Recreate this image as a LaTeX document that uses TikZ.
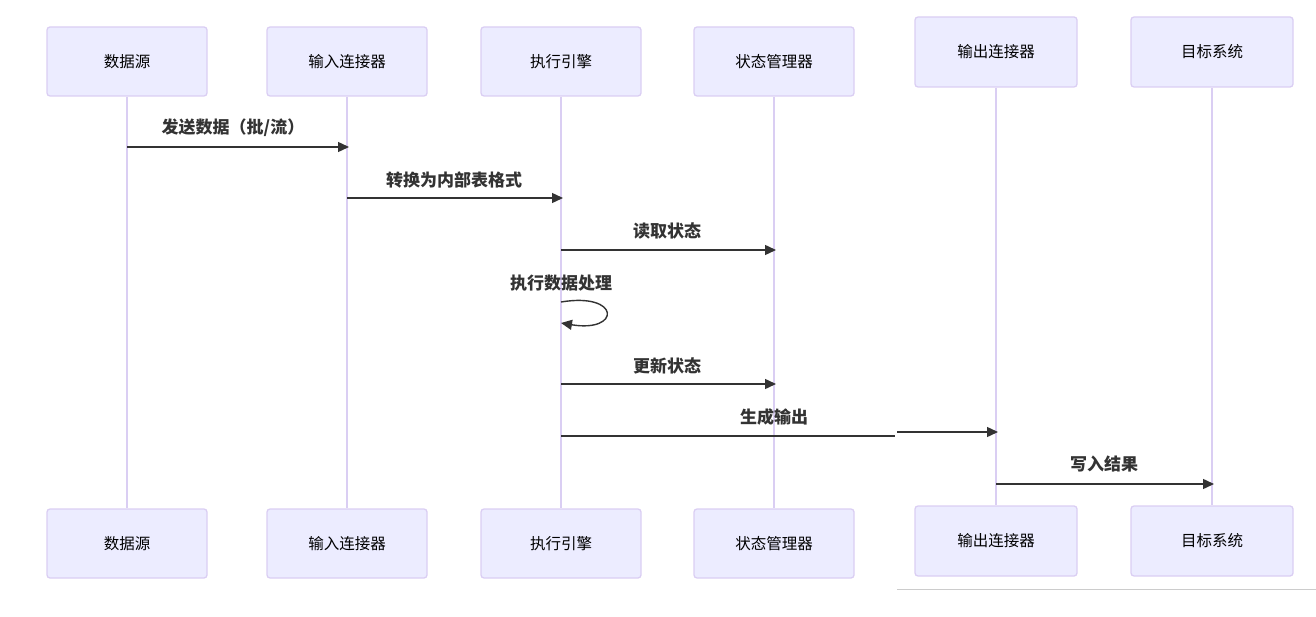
\documentclass[tikz,border=0pt]{standalone}
\usepackage{fontspec}
\newfontfamily\cjk{Noto Sans CJK SC}
\usetikzlibrary{arrows.meta,calc,backgrounds}
\definecolor{actfill}{HTML}{ECECFF}
\definecolor{actline}{HTML}{DACEF3}
\definecolor{msg}{HTML}{333333}
\begin{document}
\begin{tikzpicture}[x=1pt,y=-1pt,
 actor/.style={draw=actline, fill=actfill, rounded corners=3pt, line width=1.3pt, minimum width=160pt, minimum height=69pt, font=\cjk\fontsize{15.5}{18}\selectfont, text=black, inner sep=0pt},
 actorr/.style={actor, minimum width=162pt, minimum height=70pt},
 life/.style={draw=actline, line width=1.8pt},
 plainmsg/.style={draw=msg, line width=1.4pt},
 msgline/.style={plainmsg, -{Triangle[length=11pt,width=10pt]}, shorten >=-2pt},
 lbl/.style={font=\cjk\bfseries\fontsize{17}{20}\selectfont, text=msg, inner sep=0pt}]
\useasboundingbox (0,0) rectangle (1316,617);
% top actors
\node[actor] (s1) at (127,61.5) {数据源};
\node[actor] (s2) at (347,61.5) {输入连接器};
\node[actor] (s3) at (561,61.5) {执行引擎};
\node[actor] (s4) at (774,61.5) {状态管理器};
\node[actorr] (s5) at (996,52) {输出连接器};
\node[actorr] (s6) at (1212,52) {目标系统};
% bottom actors
\node[actor] (e1) at (127,543.5) {数据源};
\node[actor] (e2) at (347,543.5) {输入连接器};
\node[actor] (e3) at (561,543.5) {执行引擎};
\node[actor] (e4) at (774,543.5) {状态管理器};
\node[actorr] (e5) at (996,541) {输出连接器};
\node[actorr] (e6) at (1212,541) {目标系统};
\begin{scope}[on background layer]
\draw[life] (s1.south) -- (e1.north);
\draw[life] (s2.south) -- (e2.north);
\draw[life] (s3.south) -- (e3.north);
\draw[life] (s4.south) -- (e4.north);
\draw[life] (s5.south) -- (e5.north);
\draw[life] (s6.south) -- (e6.north);
\end{scope}
% messages
\draw[msgline] (s1.south |- 0,147) -- (s2.south |- 0,147);
\node[lbl] (l1) at (233,128) {发送数据（批/流）};
\draw[msgline] (s2.south |- 0,198) -- (s3.south |- 0,198);
\node[lbl] (l2) at (454,180) {转换为内部表格式};
\draw[msgline] (s3.south |- 0,250) -- (s4.south |- 0,250);
\node[lbl] (l3) at (667,231) {读取状态};
\node[lbl] (l4) at (561,283) {执行数据处理};
\draw[msgline, shorten >=0pt] (s3.south |- 0,302) .. controls +(60,-10) and +(60,10) .. (s3.south |- 0,323);
\draw[msgline] (s3.south |- 0,384) -- (s4.south |- 0,384);
\node[lbl] (l5) at (667,366) {更新状态};
\coordinate (brkA) at (895,436);
\coordinate (brkB) at (897,432);
\draw[plainmsg] (s3.south |- 0,436) -- (brkA);
\draw[msgline] (brkB) -- (s5.south |- 0,432);
\node[lbl] (l6) at (774,417) {生成输出};
\draw[msgline] (s5.south |- 0,484) -- (s6.south |- 0,484);
\node[lbl] (l7) at (1104,464) {写入结果};
% bottom rule
\coordinate (ruleA) at (897,589);
\coordinate (ruleB) at (1316,589);
\draw[draw=black!20, line width=1pt] (ruleA) -- (ruleB);
\end{tikzpicture}
\end{document}
